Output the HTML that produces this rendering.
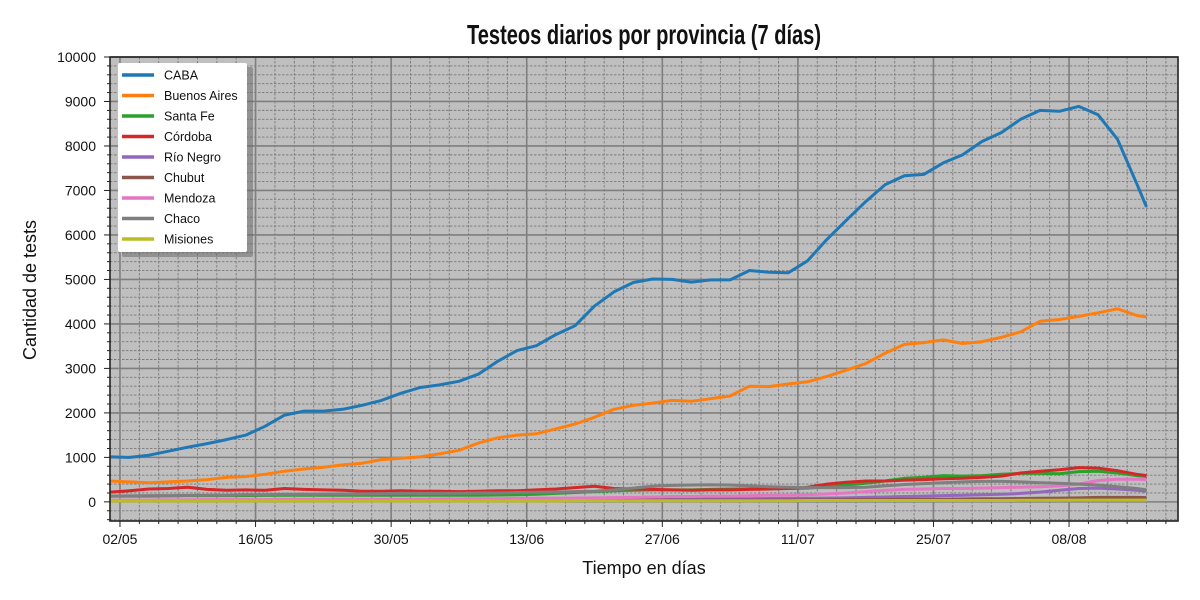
<!DOCTYPE html>
<html><head><meta charset="utf-8"><style>
body{margin:0;background:#fff;}
svg{display:block;font-family:"Liberation Sans",sans-serif;}
</style></head><body>
<svg id="chart" width="1200" height="600"></svg>
<script>
const days=[-1];for(let d=1;d<=105;d+=2)days.push(d);days.push(106);
const seriesNames=["CABA","Buenos Aires","Santa Fe","Córdoba","Río Negro","Chubut","Mendoza","Chaco","Misiones"];
const seriesColors=["#1f77b4","#ff7f0e","#2ca02c","#d62728","#9467bd","#8c564b","#e377c2","#7f7f7f","#bcbd22"];
const caba=[1010,1000,1050,1140,1230,1310,1400,1500,1700,1950,2040,2040,2080,2170,2280,2440,2570,2630,2710,2870,3160,3400,3510,3760,3960,4400,4720,4930,5010,5000,4940,4990,4990,5200,5160,5150,5420,5900,6330,6750,7130,7330,7360,7620,7800,8100,8300,8600,8800,8780,8890,8700,8150,7150,6630];
const buenosAires=[470,450,430,450,470,500,550,570,620,690,740,780,830,870,950,980,1010,1080,1160,1320,1440,1500,1530,1640,1750,1900,2080,2170,2220,2280,2260,2320,2380,2600,2590,2650,2700,2820,2960,3110,3340,3540,3580,3640,3560,3600,3700,3820,4060,4100,4170,4250,4340,4190,4160];
const santaFe=[130,130,130,135,140,140,140,140,145,150,150,150,150,150,150,150,150,150,150,150,155,160,170,190,210,230,250,260,270,270,270,280,290,290,300,300,310,340,380,420,470,530,550,590,580,590,620,640,640,630,680,690,650,590,570];
const cordoba=[220,250,290,300,330,280,260,270,260,300,280,270,260,240,240,250,240,240,230,240,250,250,270,290,320,350,300,290,280,270,260,270,270,280,290,300,330,400,440,470,470,490,500,520,530,550,580,650,690,720,770,760,700,620,590];
const rioNegro=[20,20,20,20,20,25,25,25,25,30,30,30,30,30,35,35,35,40,40,40,40,45,45,50,50,50,55,60,60,60,65,65,70,70,75,75,80,85,90,100,110,120,130,140,150,160,170,190,220,260,300,310,290,260,240];
const chubut=[30,30,30,30,30,30,30,30,30,30,30,30,30,30,30,30,30,30,30,30,35,35,35,35,35,35,40,40,40,40,40,40,40,40,40,40,45,45,50,50,50,55,60,60,65,70,70,75,80,85,90,100,100,100,95];
const mendoza=[40,40,40,45,45,50,50,50,50,55,55,55,60,60,60,60,60,65,65,70,70,75,80,80,85,90,95,100,110,120,120,130,130,140,150,150,160,180,200,230,260,280,290,300,300,310,320,330,340,360,400,480,510,510,500];
const chaco=[130,135,140,140,145,150,150,160,160,170,170,175,180,180,185,190,190,190,195,200,200,210,215,220,230,240,270,310,350,370,380,385,380,360,340,330,320,320,320,330,360,390,410,430,450,460,460,450,430,420,400,380,340,300,270];
const misiones=[20,20,20,20,20,20,20,20,20,20,20,20,20,20,20,20,20,20,20,20,20,20,20,20,25,25,25,25,25,25,25,25,25,25,25,25,30,30,30,30,30,30,30,30,30,30,30,35,35,35,40,40,40,40,40];
const allSeries=[caba,buenosAires,santaFe,cordoba,rioNegro,chubut,mendoza,chaco,misiones];
const xTickDays=[0,14,28,42,56,70,84,98];
const xTickLabels=["02/05","16/05","30/05","13/06","27/06","11/07","25/07","08/08"];
const yTicks=[0,1000,2000,3000,4000,5000,6000,7000,8000,9000,10000];

const L=110,R=1178,T=57,B=521;
const xMin=-1.03,xMax=109.25,yMin=-430,yMax=10000;
const X=d=>L+(d-xMin)/(xMax-xMin)*(R-L);
const Y=v=>B-(v-yMin)/(yMax-yMin)*(B-T);
const NS="http://www.w3.org/2000/svg";
const svg=document.getElementById('chart');
function mk(tag,attrs,parent){const e=document.createElementNS(NS,tag);for(const k in attrs)e.setAttribute(k,attrs[k]);(parent||svg).appendChild(e);return e;}

const bg=mk('rect',{x:L,y:T,width:R-L,height:B-T,fill:'#bfbfbf'});


const grid=mk('g',{});


for(let d=0;d<=xMax;d+=2){if(d%14===0)continue;mk('line',{x1:X(d),x2:X(d),y1:T,y2:B,stroke:'#7a7a7a','stroke-width':0.9,'stroke-dasharray':'2.5,1.5'},grid);}
for(let v=-400;v<=yMax;v+=200){if(v%1000===0)continue;mk('line',{x1:L,x2:R,y1:Y(v),y2:Y(v),stroke:'#7a7a7a','stroke-width':0.9,'stroke-dasharray':'2.5,1.5'},grid);}
xTickDays.forEach(d=>mk('line',{x1:X(d),x2:X(d),y1:T,y2:B,stroke:'#7f7f7f','stroke-width':1.6},grid));
yTicks.forEach(v=>mk('line',{x1:L,x2:R,y1:Y(v),y2:Y(v),stroke:'#7f7f7f','stroke-width':1.6},grid));

allSeries.forEach((s,i)=>{
  const pts=s.map((v,j)=>X(days[j]).toFixed(1)+','+Y(v).toFixed(1)).join(' ');
  const pl=mk('polyline',{points:pts,fill:'none',stroke:seriesColors[i],'stroke-width':3,'stroke-linejoin':'round'});
  
  
});

mk('rect',{x:L,y:T,width:R-L,height:B-T,fill:'none',stroke:'#222','stroke-width':1.6});
for(let d=0;d<=xMax;d+=2){const maj=d%14===0;mk('line',{x1:X(d),x2:X(d),y1:B,y2:B+(maj?6:3),stroke:'#222','stroke-width':1});}
for(let v=-400;v<=yMax;v+=200){const maj=v%1000===0;mk('line',{x1:L,x2:L-(maj?6:3),y1:Y(v),y2:Y(v),stroke:'#222','stroke-width':1});}
xTickLabels.forEach((t,i)=>{const e=mk('text',{x:X(xTickDays[i]),y:B+23,'text-anchor':'middle','font-size':14,fill:'#111'});e.textContent=t;

});
yTicks.forEach(v=>{const e=mk('text',{x:L-14,y:Y(v)+5,'text-anchor':'end','font-size':14,fill:'#111'});e.textContent=v;

});

const title=mk('text',{x:467,y:44,'font-size':28,'font-weight':'bold',textLength:354,lengthAdjust:'spacingAndGlyphs',fill:'#111'});
title.textContent='Testeos diarios por provincia (7 días)';


const xl=mk('text',{x:644,y:574,'text-anchor':'middle','font-size':18,fill:'#111'});
xl.textContent='Tiempo en días';


const yl=mk('text',{x:36,y:290,'text-anchor':'middle','font-size':18,fill:'#111',transform:'rotate(-90 36 290)'});
yl.textContent='Cantidad de tests';



const lg=mk('g',{});


mk('rect',{x:122,y:67,width:131,height:190,fill:'#666',opacity:0.5,rx:2},lg);
mk('rect',{x:118,y:63,width:129,height:189,fill:'#fff',rx:2},lg);
seriesNames.forEach((n,i)=>{const y=75+i*20.5;
  mk('line',{x1:122,x2:154,y1:y,y2:y,stroke:seriesColors[i],'stroke-width':3.5},lg);
  const t=mk('text',{x:164,y:y+4.5,'font-size':12.5,fill:'#111'},lg);t.textContent=n;
  
  
});
</script>
</body></html>
